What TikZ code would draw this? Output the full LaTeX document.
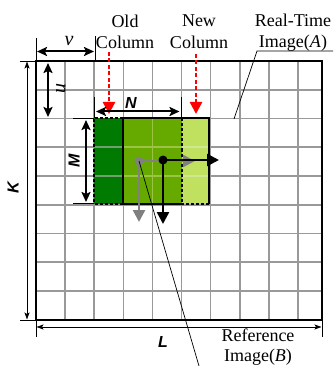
\documentclass[tikz,border=0pt]{standalone}
\usepackage{fontspec}
\setmainfont{Liberation Serif}
\newfontfamily\labsans{Liberation Sans}
\usetikzlibrary{arrows.meta}
\definecolor{gridgray}{HTML}{999999}
\definecolor{dkgreen}{HTML}{007A00}
\definecolor{mdgreen}{HTML}{66AA00}
\definecolor{ltgreen}{HTML}{C0E060}
\definecolor{dkline}{HTML}{6F9F6F}
\definecolor{mdline}{HTML}{9CC444}
\definecolor{ltline}{HTML}{CFE890}
\definecolor{arrgray}{HTML}{808080}
\begin{document}
\begin{tikzpicture}[x=1pt,y=-1pt,
  txt/.style={font=\fontsize{18}{21}\selectfont, inner sep=0pt, anchor=base},
  dimlab/.style={font=\labsans\bfseries\itshape\fontsize{16}{18}\selectfont, inner sep=0pt},
  gridline/.style={gridgray, line width=1.6pt},
  dimthick/.style={line width=2pt, {Stealth[length=10pt,width=9pt,inset=2pt]}-{Stealth[length=10pt,width=9pt,inset=2pt]}},
  dimthin/.style={line width=0.8pt, {Stealth[length=7pt,width=5pt,inset=1.5pt]}-{Stealth[length=7pt,width=5pt,inset=1.5pt]}},
  extline/.style={line width=0.8pt},
  redarrow/.style={red, line width=2.5pt, dash pattern=on 4pt off 2.5pt, -{Triangle[length=12pt,width=12pt]}},
  motion/.style={line width=2.5pt, -{Triangle[length=12pt,width=12pt]}},
  leader/.style={line width=0.7pt}
]
\useasboundingbox (0,0) rectangle (333,366);

% grid lines
\foreach \i in {1,...,9} {
  \draw[gridline] ({36+29.1*\i},61) -- ({36+29.1*\i},320);
}
\foreach \j in {1,...,8} {
  \draw[gridline] (36,{61+28.75*\j}) -- (322,{61+28.75*\j});
}

% green blocks
\fill[dkgreen] (94.2,118.5) rectangle (123.3,204);
\fill[mdgreen] (123.3,118.5) rectangle (181.5,204);
\fill[ltgreen] (181.5,118.5) rectangle (208.5,204);
\foreach \j in {1,2} {
  \draw[dkline, line width=1.5pt] (94.2,{118.5+28.75*\j}) -- (123.3,{118.5+28.75*\j});
  \draw[mdline, line width=1.5pt] (123.3,{118.5+28.75*\j}) -- (181.5,{118.5+28.75*\j});
  \draw[ltline, line width=1.5pt] (181.5,{118.5+28.75*\j}) -- (208.5,{118.5+28.75*\j});
}
\draw[mdline, line width=1.5pt] (152.4,118.5) -- (152.4,204);

% block borders
\draw[line width=2pt, dash pattern=on 3pt off 2pt] (123.3,118.5) -- (94.2,118.5) -- (94.2,204) -- (123.3,204);
\draw[line width=2pt, dash pattern=on 3pt off 2pt] (181.5,118.5) -- (181.5,204) -- (208.5,204);
\draw[line width=2pt] (181.5,204) -- (123.3,204) -- (123.3,118.5) -- (208.5,118.5) -- (208.5,204);

% outer frame
\draw[line width=2pt] (36,61) rectangle (322,320);

% motion arrows
\coordinate (g) at (139,161);
\coordinate (b) at (163,160);
\coordinate (gr) at (195,161);
\coordinate (gd) at (139,222);
\coordinate (br) at (219,160);
\coordinate (bd) at (163,224);
\draw[motion, arrgray] (g) -- (gr);
\draw[motion, arrgray] (g) -- (gd);
\fill[arrgray] (g) circle (4.5);
\draw[motion] (b) -- (br);
\draw[motion] (b) -- (bd);
\fill[black] (b) circle (4.5);

% labels
\node[txt] (old1) at (125,28) {Old};
\node[txt] (old2) at (125,49) {Column};
\node[txt] (new1) at (199,27) {New};
\node[txt] (new2) at (199,49) {Column};
\node[txt] (rt1) at (293,27) {Real-Time};
\node[txt] (rt2) at (293,48) {Image(\textit{A})};
\node[txt] (rf1) at (258,341) {Reference};
\node[txt] (rf2) at (258,361) {Image(\textit{B})};

% red arrows
\coordinate (oldtip) at (109,114);
\coordinate (newtip) at (196,114);
\draw[redarrow] (109,52) -- (oldtip);
\draw[redarrow] (196,54) -- (newtip);

% leaders
\coordinate (rtc) at (234,119);
\coordinate (rtk) at (257,51);
\coordinate (rte) at (333,51);
\draw[leader] (rte) -- (rtk) -- (rtc);
\coordinate (rfe) at (199,366);
\draw[leader] (g) -- (rfe);

% v dimension
\draw[extline] (36,38) -- (36,61);
\draw[extline] (95,36) -- (95,61);
\draw[dimthick] (37,51.5) -- (94,51.5);
\node[font=\fontsize{20}{22}\selectfont\itshape, inner sep=0pt, anchor=base] (vl) at (69,46) {v};

% u dimension
\draw[dimthick] (48,63) -- (48,117);
\node[font=\fontsize{20}{22}\selectfont\itshape, inner sep=0pt, rotate=90] (ul) at (61,89) {u};

% N dimension
\draw[extline] (94.6,97) -- (94.6,118.5);
\draw[extline] (181,97) -- (181,118.5);
\draw[dimthick] (96,111.5) -- (179.5,111.5);
\node[dimlab] (nl) at (131,103) {N};

% M dimension
\draw[extline] (73,118.5) -- (94.2,118.5);
\draw[extline] (73,203.5) -- (94.2,203.5);
\draw[dimthick] (86,120) -- (86,202);
\node[dimlab, rotate=90] (ml) at (74,161) {M};

% K dimension
\draw[extline] (20,61) -- (36,61);
\draw[extline] (20,320) -- (36,320);
\draw[dimthin] (27,61.5) -- (27,319.5);
\node[dimlab, rotate=90] (kl) at (13,188) {K};

% L dimension
\draw[extline] (36,320) -- (36,337);
\draw[extline] (322,320) -- (322,337);
\draw[dimthin] (36.5,327) -- (321.5,327);
\node[dimlab] (ll) at (163,342) {L};
\end{tikzpicture}
\end{document}
